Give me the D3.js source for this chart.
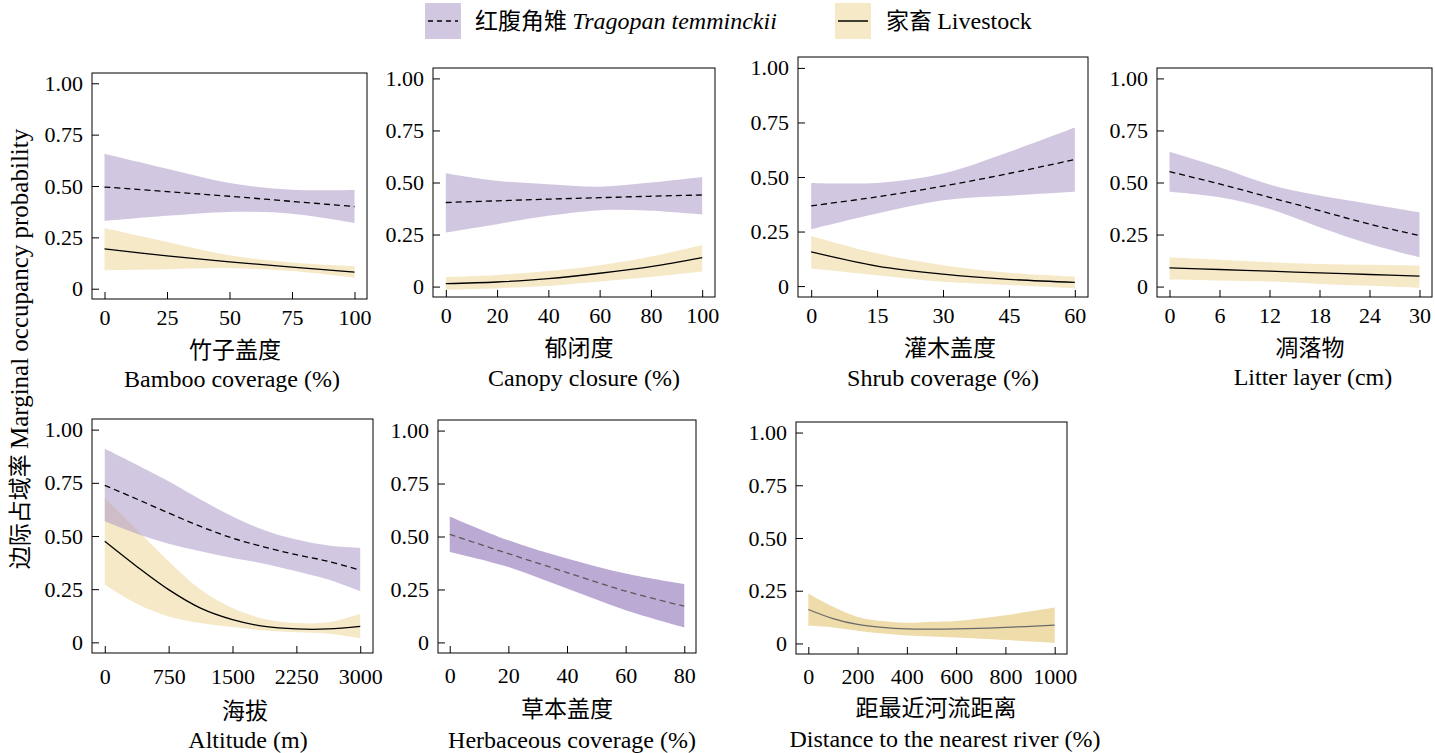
<!DOCTYPE html>
<html><head><meta charset="utf-8">
<script src="https://cdn.jsdelivr.net/npm/d3@7"></script>
<style>
body{margin:0;background:#fff;}
svg{display:block;}
</style></head>
<body><svg id="c" width="1435" height="753"></svg>
<script>
// ---------- DATA ----------
const seriesNames = ["红腹角雉", "Tragopan temminckii", "家畜", "Livestock"];
const yTicks = [0, 0.25, 0.5, 0.75, 1.0];

// Panel 1: Bamboo coverage
const bambooX = [0, 25, 50, 75, 100];
const bambooTragMean = [0.495, 0.473, 0.450, 0.425, 0.400];
const bambooTragHi   = [0.657, 0.584, 0.515, 0.482, 0.480];
const bambooTragLo   = [0.330, 0.355, 0.374, 0.365, 0.320];
const bambooLiveMean = [0.194, 0.160, 0.131, 0.105, 0.081];
const bambooLiveHi   = [0.296, 0.228, 0.163, 0.128, 0.110];
const bambooLiveLo   = [0.090, 0.095, 0.100, 0.086, 0.053];
const bambooTicks = [0, 25, 50, 75, 100];

// Panel 2: Canopy closure
const canopyX = [0, 20, 40, 60, 80, 100];
const canopyTragMean = [0.404, 0.412, 0.420, 0.427, 0.434, 0.440];
const canopyTragHi   = [0.545, 0.508, 0.492, 0.480, 0.500, 0.527];
const canopyTragLo   = [0.260, 0.300, 0.340, 0.367, 0.364, 0.346];
const canopyLiveMean = [0.014, 0.022, 0.038, 0.064, 0.096, 0.139];
const canopyLiveHi   = [0.046, 0.056, 0.075, 0.103, 0.144, 0.200];
const canopyLiveLo   = [-0.016, -0.008, 0.003, 0.024, 0.046, 0.072];
const canopyTicks = [0, 20, 40, 60, 80, 100];

// Panel 3: Shrub coverage
const shrubX = [0, 15, 30, 45, 60];
const shrubTragMean = [0.368, 0.409, 0.458, 0.516, 0.580];
const shrubTragHi   = [0.473, 0.473, 0.516, 0.615, 0.727];
const shrubTragLo   = [0.261, 0.333, 0.394, 0.414, 0.432];
const shrubLiveMean = [0.157, 0.092, 0.055, 0.031, 0.017];
const shrubLiveHi   = [0.230, 0.150, 0.096, 0.061, 0.043];
const shrubLiveLo   = [0.081, 0.050, 0.020, 0.005, -0.011];
const shrubTicks = [0, 15, 30, 45, 60];

// Panel 4: Litter layer
const litterX = [0, 6, 12, 18, 24, 30];
const litterTragMean = [0.552, 0.493, 0.429, 0.365, 0.300, 0.245];
const litterTragHi   = [0.648, 0.573, 0.490, 0.437, 0.397, 0.357];
const litterTragLo   = [0.456, 0.429, 0.373, 0.285, 0.205, 0.141];
const litterLiveMean = [0.090, 0.082, 0.074, 0.066, 0.058, 0.050];
const litterLiveHi   = [0.141, 0.129, 0.117, 0.109, 0.105, 0.101];
const litterLiveLo   = [0.034, 0.029, 0.024, 0.013, 0.004, -0.006];
const litterTicks = [0, 6, 12, 18, 24, 30];

// Panel 5: Altitude
const altX = [0, 375, 750, 1125, 1500, 1875, 2250, 2625, 3000];
const altTragMean = [0.738, 0.674, 0.608, 0.545, 0.490, 0.448, 0.412, 0.381, 0.339];
const altTragHi   = [0.910, 0.835, 0.757, 0.671, 0.592, 0.527, 0.483, 0.455, 0.444];
const altTragLo   = [0.569, 0.511, 0.464, 0.428, 0.397, 0.370, 0.334, 0.295, 0.240];
const altLiveMean = [0.475, 0.357, 0.248, 0.161, 0.107, 0.075, 0.063, 0.063, 0.075];
const altLiveHi   = [0.679, 0.530, 0.381, 0.248, 0.161, 0.110, 0.091, 0.094, 0.135];
const altLiveLo   = [0.271, 0.182, 0.122, 0.091, 0.072, 0.056, 0.047, 0.041, 0.020];
const altTicks = [0, 750, 1500, 2250, 3000];

// Panel 6: Herbaceous coverage (Tragopan only)
const herbX = [0, 20, 40, 60, 80];
const herbTragMean = [0.510, 0.419, 0.330, 0.242, 0.171];
const herbTragHi   = [0.595, 0.482, 0.396, 0.325, 0.275];
const herbTragLo   = [0.427, 0.356, 0.254, 0.152, 0.071];
const herbTicks = [0, 20, 40, 60, 80];

// Panel 7: Distance to nearest river (Livestock only)
const riverX = [0, 100, 200, 300, 400, 500, 600, 800, 1000];
const riverLiveMean = [0.161, 0.118, 0.090, 0.076, 0.069, 0.068, 0.069, 0.076, 0.087];
const riverLiveHi   = [0.237, 0.174, 0.126, 0.106, 0.098, 0.103, 0.107, 0.134, 0.170];
const riverLiveLo   = [0.084, 0.076, 0.060, 0.047, 0.038, 0.033, 0.028, 0.016, 0.003];
const riverTicks = [0, 200, 400, 600, 800, 1000];

const titlesCN = ["竹子盖度", "郁闭度", "灌木盖度", "凋落物", "海拔", "草本盖度", "距最近河流距离"];
const titlesEN = ["Bamboo coverage (%)", "Canopy closure (%)", "Shrub coverage (%)", "Litter layer (cm)",
                  "Altitude (m)", "Herbaceous coverage (%)", "Distance to the nearest river (%)"];
const yLabelCN = "边际占域率";
const yLabelEN = "Marginal occupancy probability";

// ---------- STYLE / LAYOUT ----------
const SERIF = '"Liberation Serif", "Times New Roman", serif';
const CJK = '"Noto Sans CJK SC", sans-serif';
const C = {
  trag: "rgba(165,143,195,0.5)", tragLegend: "#d2c7e1", live: "#f6e9c8",
  herb: "#bbaad4", river: "#efdcab"
};

const panels = [
  {x: bambooX, dom:[0,100], ticks: bambooTicks, box:[92,73,367,299], tp:10, cnY:350, enY:379, cnX:235, enX:232,
   trag:{m:bambooTragMean,h:bambooTragHi,l:bambooTragLo}, live:{m:bambooLiveMean,h:bambooLiveHi,l:bambooLiveLo}},
  {x: canopyX, dom:[0,100], ticks: canopyTicks, box:[433,68,715,297], tp:10, cnY:348, enY:378, cnX:579, enX:584,
   trag:{m:canopyTragMean,h:canopyTragHi,l:canopyTragLo}, live:{m:canopyLiveMean,h:canopyLiveHi,l:canopyLiveLo}},
  {x: shrubX, dom:[0,60], ticks: shrubTicks, box:[798,57,1088,297], tp:10, cnY:348, enY:378, cnX:950, enX:943,
   trag:{m:shrubTragMean,h:shrubTragHi,l:shrubTragLo}, live:{m:shrubLiveMean,h:shrubLiveHi,l:shrubLiveLo}},
  {x: litterX, dom:[0,30], ticks: litterTicks, box:[1157,68,1432,297], tp:10, cnY:348, enY:377, cnX:1310, enX:1313,
   trag:{m:litterTragMean,h:litterTragHi,l:litterTragLo}, live:{m:litterLiveMean,h:litterLiveHi,l:litterLiveLo}},
  {x: altX, dom:[0,3000], ticks: altTicks, box:[92,419,373,653], tp:15, cnY:711, enY:740, cnX:245, enX:248,
   trag:{m:altTragMean,h:altTragHi,l:altTragLo}, live:{m:altLiveMean,h:altLiveHi,l:altLiveLo}},
  {x: herbX, dom:[0,80], ticks: herbTicks, box:[438,420,696,653], tp:14, cnY:709, enY:740, cnX:567, enX:572,
   trag:{m:herbTragMean,h:herbTragHi,l:herbTragLo}, tragFill:C.herb, tragLine:"#5a5a5a"},
  {x: riverX, dom:[0,1000], ticks: riverTicks, box:[796,422,1067,654], tp:14, cnY:708, enY:739, cnX:936, enX:945,
   live:{m:riverLiveMean,h:riverLiveHi,l:riverLiveLo}, liveFill:C.river, liveLine:"#6a6a6a"}
];

const svg = d3.select("#c");
const curve = d3.curveCatmullRom.alpha(0.5);

panels.forEach((p, i) => {
  const [x0, y0, x1, y1] = p.box;
  const span = p.dom[1] - p.dom[0];
  const x = d3.scaleLinear().domain([p.dom[0] - 0.05 * span, p.dom[1] + 0.05 * span]).range([x0, x1]);
  const y = d3.scaleLinear().domain([-0.05, 1.05]).range([y1, y0]);
  const g = svg.append("g");

  const band = (s, fill, line, dash) => {
    const pts = p.x.map((v, k) => ({x: v, m: s.m[k], h: s.h[k], l: s.l[k]}));
    g.append("path").datum(pts)
      .attr("d", d3.area().x(d => x(d.x)).y0(d => y(d.l)).y1(d => y(d.h)).curve(curve))
      .attr("fill", fill);
    g.append("path").datum(pts)
      .attr("d", d3.line().x(d => x(d.x)).y(d => y(d.m)).curve(curve))
      .attr("fill", "none").attr("stroke", line).attr("stroke-width", 1.3)
      .attr("stroke-dasharray", dash ? "6,4" : null);
  };
  if (p.live) band(p.live, p.liveFill || C.live, p.liveLine || "#000", false);
  if (p.trag) band(p.trag, p.tragFill || C.trag, p.tragLine || "#000", true);

  const ya = g.append("g").attr("transform", `translate(${x0},0)`)
    .call(d3.axisLeft(y).tickValues(yTicks).tickSizeInner(-7).tickSizeOuter(0).tickPadding(9)
      .tickFormat(d => d === 0 ? "0" : d3.format(".2f")(d)));
  const xa = g.append("g").attr("transform", `translate(0,${y1})`)
    .call(d3.axisBottom(x).tickValues(p.ticks).tickSizeInner(-7).tickSizeOuter(0).tickPadding(p.tp)
      .tickFormat(d3.format("d")));
  [ya, xa].forEach(a => {
    a.attr("font-family", null).attr("font-size", null);
    a.select(".domain").remove();
    a.selectAll("text").style("font-family", SERIF).style("font-size", "22px").attr("fill", "#000");
    a.selectAll("line").attr("stroke", "#000").attr("stroke-width", 1);
  });

  g.append("rect").attr("x", x0).attr("y", y0).attr("width", x1 - x0).attr("height", y1 - y0)
    .attr("fill", "none").attr("stroke", "#000").attr("stroke-width", 1);

  g.append("text").attr("x", p.cnX).attr("y", p.cnY).attr("dy", "0.36em")
    .attr("text-anchor", "middle").style("font-family", CJK).style("font-size", "23px").text(titlesCN[i]);
  g.append("text").attr("x", p.enX).attr("y", p.enY).attr("dy", "0.32em")
    .attr("text-anchor", "middle").style("font-family", SERIF).style("font-size", "24px").text(titlesEN[i]);
});

// y-axis label
svg.append("text").attr("transform", "translate(19,349) rotate(-90)")
  .attr("text-anchor", "middle").attr("dy", "0.35em")
  .style("font-family", SERIF).style("font-size", "25px")
  .call(t => {
    t.append("tspan").style("font-family", CJK).style("font-size", "23px").text(yLabelCN + " ");
    t.append("tspan").text(yLabelEN);
  });

// legend
const leg = svg.append("g");
leg.append("rect").attr("x", 425).attr("y", 3).attr("width", 36).attr("height", 36).attr("fill", C.tragLegend);
leg.append("line").attr("x1", 428).attr("x2", 458).attr("y1", 21).attr("y2", 21)
  .attr("stroke", "#000").attr("stroke-width", 1.3).attr("stroke-dasharray", "5,4");
leg.append("text").attr("x", 475).attr("y", 21).attr("dy", "0.35em")
  .style("font-family", SERIF).style("font-size", "24px")
  .call(t => {
    t.append("tspan").style("font-family", CJK).style("font-size", "23px").text(seriesNames[0] + " ");
    t.append("tspan").style("font-style", "italic").text(seriesNames[1]);
  });
leg.append("rect").attr("x", 835).attr("y", 3).attr("width", 36).attr("height", 36).attr("fill", C.live);
leg.append("line").attr("x1", 838).attr("x2", 868).attr("y1", 21).attr("y2", 21)
  .attr("stroke", "#000").attr("stroke-width", 1.5);
leg.append("text").attr("x", 886).attr("y", 21).attr("dy", "0.35em")
  .style("font-family", SERIF).style("font-size", "24px")
  .call(t => {
    t.append("tspan").style("font-family", CJK).style("font-size", "23px").text(seriesNames[2] + " ");
    t.append("tspan").text(seriesNames[3]);
  });
</script></body></html>
